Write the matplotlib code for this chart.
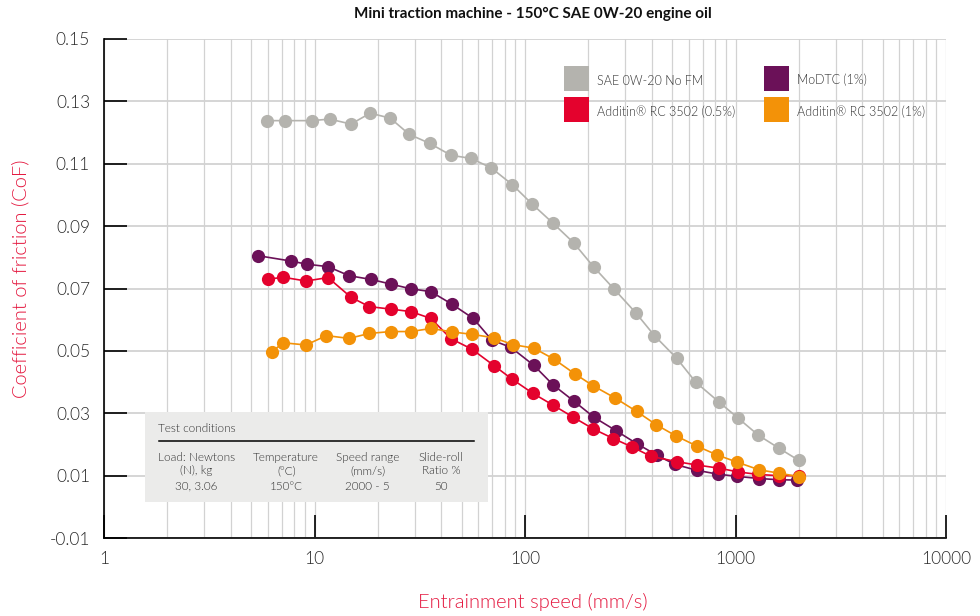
import matplotlib
matplotlib.use("Agg")
import matplotlib.pyplot as plt
from matplotlib.patches import Rectangle
from matplotlib.lines import Line2D
import numpy as np

plt.rcParams['font.family'] = ['Lato', 'DejaVu Sans']

# ---- data ----
gray_speed = [5.97, 7.24, 9.70, 11.8, 14.9, 18.4, 22.9, 28.2, 35.3, 44.5, 55.4, 69.0, 87.0,
              108, 136, 170, 212, 266, 337, 412, 526, 649, 832, 1031, 1283, 1609, 2000]
gray_cof = [0.1238, 0.1238, 0.1238, 0.1243, 0.1227, 0.1262, 0.1246, 0.1194, 0.1165, 0.1127,
            0.1117, 0.1087, 0.1033, 0.0971, 0.0909, 0.0847, 0.0769, 0.0697, 0.0621, 0.0549,
            0.0476, 0.0399, 0.0337, 0.0284, 0.0230, 0.0188, 0.0149]

purple_speed = [5.41, 7.73, 9.18, 11.6, 14.6, 18.6, 23.1, 28.7, 35.7, 44.9, 56.8, 69.5, 85.8,
                110, 136, 170, 213, 271, 339, 425, 516, 659, 823, 1013, 1293, 1615, 1950]
purple_cof = [0.0805, 0.0788, 0.0778, 0.0770, 0.0741, 0.0729, 0.0714, 0.0699, 0.0690, 0.0650,
              0.0604, 0.0535, 0.0511, 0.0454, 0.0391, 0.0340, 0.0287, 0.0244, 0.0203, 0.0165,
              0.0136, 0.0117, 0.0105, 0.0098, 0.0091, 0.0087, 0.0086]

red_speed = [6.03, 7.11, 9.11, 11.6, 14.9, 18.2, 23.0, 28.7, 35.7, 44.5, 55.8, 71.2, 87.0,
             109, 136, 169, 211, 263, 323, 397, 526, 659, 838, 1031, 1283, 1615, 2000]
red_cof = [0.0730, 0.0736, 0.0724, 0.0735, 0.0672, 0.0642, 0.0634, 0.0626, 0.0604, 0.0539,
           0.0506, 0.0453, 0.0409, 0.0364, 0.0326, 0.0288, 0.0250, 0.0219, 0.0192, 0.0162,
           0.0145, 0.0134, 0.0124, 0.0112, 0.0104, 0.0100, 0.0100]

orange_speed = [6.26, 7.11, 9.11, 11.4, 14.6, 18.2, 23.0, 28.7, 35.8, 44.9, 56.1, 71.2, 87.7,
                110, 137, 172, 211, 268, 339, 421, 520, 655, 814, 1022, 1293, 1612, 2000]
orange_cof = [0.0497, 0.0526, 0.0519, 0.0549, 0.0540, 0.0556, 0.0562, 0.0562, 0.0572, 0.0561,
              0.0553, 0.0542, 0.0520, 0.0509, 0.0474, 0.0427, 0.0388, 0.0349, 0.0306, 0.0263,
              0.0228, 0.0195, 0.0167, 0.0143, 0.0119, 0.0108, 0.0097]

series_labels = ["SAE 0W-20 No FM", "MoDTC (1%)", "Additin\u00ae RC 3502 (0.5%)", "Additin\u00ae RC 3502 (1%)"]
series_colors = ["#B4B3AE", "#6B1158", "#E4022D", "#F39208"]

x_ticks = [1, 10, 100, 1000, 10000]
x_ticklabels = ["1", "10", "100", "1000", "10000"]
y_ticks = [-0.01, 0.01, 0.03, 0.05, 0.07, 0.09, 0.11, 0.13, 0.15]
y_ticklabels = ["-0.01", "0.01", "0.03", "0.05", "0.07", "0.09", "0.11", "0.13", "0.15"]

cond_headers = ["Load: Newtons\n(N), kg", "Temperature\n(\u00b0C)", "Speed range\n(mm/s)", "Slide-roll\nRatio %"]
cond_values = ["30, 3.06", "150\u00b0C", "2000 - 5", "50"]

# ---- figure ----
fig = plt.figure(figsize=(9.8, 6.16), dpi=100)
W, H = 980, 616
ax_l, ax_r, ax_t, ax_b = 104, 946, 38.9, 538.1
ax = fig.add_axes([ax_l / W, 1 - ax_b / H, (ax_r - ax_l) / W, (ax_b - ax_t) / H])

ax.set_xscale('log')
ax.set_xlim(1, 10000)
ax.set_ylim(-0.01, 0.15)

grid_c = '#D2D2D2'
ax.grid(which='major', axis='y', color=grid_c, lw=1.3, zorder=0)
ax.grid(which='both', axis='x', color=grid_c, lw=0.9, zorder=0)
ax.set_axisbelow(True)

ax.set_xticks(x_ticks)
ax.set_xticklabels(x_ticklabels)
ax.set_yticks(y_ticks)
ax.set_yticklabels(y_ticklabels)
ax.tick_params(which='major', direction='in', length=16.5, width=1.2, color='black',
               labelsize=12.5, labelcolor='#2a2a2a')
ax.tick_params(axis='y', pad=10)
ax.tick_params(axis='x', pad=9)
ax.tick_params(which='minor', length=0)
for lab in ax.get_xticklabels() + ax.get_yticklabels():
    lab.set_fontweight(300)

for s in ['top', 'right']:
    ax.spines[s].set_visible(False)
for s in ['left', 'bottom']:
    ax.spines[s].set_color('black')
    ax.spines[s].set_linewidth(1.2)

data = [(gray_speed, gray_cof), (purple_speed, purple_cof), (red_speed, red_cof), (orange_speed, orange_cof)]
for i, ((xs, ys), col) in enumerate(zip(data, series_colors)):
    ax.plot(xs, ys, '-o', color=col, lw=1.2, markersize=9.5, markeredgewidth=0, zorder=3 + i, clip_on=False)

# legend (two columns)
def handle(c):
    return Line2D([], [], linestyle='none', marker='s', markersize=18, markerfacecolor=c, markeredgewidth=0)

leg_kw = dict(loc='upper left', frameon=False, fontsize=9, handlelength=2.0, handleheight=2.0,
              handletextpad=0.7, labelspacing=0.95, borderpad=0, borderaxespad=0, labelcolor='#333333')
leg1 = ax.legend([handle(series_colors[0]), handle(series_colors[2])], [series_labels[0], series_labels[2]],
                 bbox_to_anchor=((563 - ax_l) / (ax_r - ax_l), (ax_b - 71) / (ax_b - ax_t)), **leg_kw)
ax.add_artist(leg1)
leg2 = ax.legend([handle(series_colors[1]), handle(series_colors[3])], [series_labels[1], series_labels[3]],
                 bbox_to_anchor=((763 - ax_l) / (ax_r - ax_l), (ax_b - 71) / (ax_b - ax_t)), **leg_kw)
for lg in (leg1, leg2):
    for t in lg.get_texts():
        t.set_fontweight(300)

# test conditions box
def axx(px):
    return (px - ax_l) / (ax_r - ax_l)

def axy(py):
    return (ax_b - py) / (ax_b - ax_t)

ax.add_patch(Rectangle((axx(145), axy(502)), axx(488) - axx(145), axy(411.5) - axy(502),
                       transform=ax.transAxes, facecolor='#EBEBEA', edgecolor='none', zorder=2.6))
ax.text(axx(158.5), axy(429), "Test conditions", transform=ax.transAxes, fontsize=8.5,
        color='#333333', ha='left', va='center', zorder=2.7, fontweight=300)
ax.plot([axx(158.5), axx(473.5)], [axy(441), axy(441)], transform=ax.transAxes, color='black',
        lw=1.1, zorder=2.7, clip_on=False)
centers = [196.3, 286.2, 367.5, 441]
for cx, hdr, val in zip(centers, cond_headers, cond_values):
    ax.text(axx(cx), axy(464), hdr, transform=ax.transAxes, fontsize=8.5, color='#333333',
            ha='center', va='center', linespacing=1.25, zorder=2.7, fontweight=300)
    ax.text(axx(cx), axy(486.5), val, transform=ax.transAxes, fontsize=8.5, color='#333333',
            ha='center', va='center', zorder=2.7, fontweight=300)

# titles / axis labels
red_lab = '#E4173E'
fig.text(532.5 / W, 1 - 14 / H, "Mini traction machine - 150\u00b0C SAE 0W-20 engine oil",
         ha='center', va='center', fontsize=11, fontweight='bold', color='#111111')
fig.text(533 / W, 1 - 602 / H, "Entrainment speed (mm/s)", ha='center', va='center',
         fontsize=14.5, color=red_lab, fontweight=300)
fig.text(21 / W, 1 - 279 / H, "Coefficient of friction (CoF)", ha='center', va='center',
         rotation=90, fontsize=14.5, color=red_lab, fontweight=300)

fig.savefig('out.png', dpi=100)
